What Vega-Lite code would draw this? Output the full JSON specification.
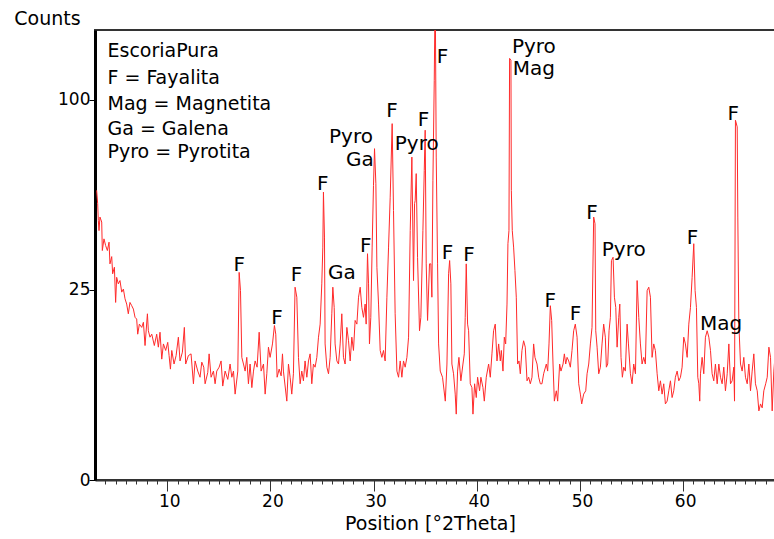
{
"$schema": "https://vega.github.io/schema/vega-lite/v6.json",
"autosize": {"type": "none"},
"width": 681,
"height": 450,
"padding": {"left": 95, "top": 30, "right": 0, "bottom": 59},
"background": "white",
"config": {"view": {"stroke": "#333", "strokeWidth": 2}, "font": "DejaVu Sans"},
"resolve": {"axis": {"x": "independent"}},
"datasets": {
"trace": [
{"t":3.16,"c":58.0},{"t":3.26,"c":52.8},{"t":3.32,"c":46.6},{"t":3.39,"c":43.0},{"t":3.48,"c":47.8},{"t":3.65,"c":46.0},{"t":3.71,"c":36.4},{"t":3.87,"c":40.2},{"t":4.03,"c":38.0},{"t":4.20,"c":36.4},{"t":4.36,"c":39.1},{"t":4.45,"c":32.3},{"t":4.62,"c":34.5},{"t":4.71,"c":29.4},{"t":4.88,"c":31.3},{"t":5.00,"c":21.8},{"t":5.10,"c":28.4},{"t":5.26,"c":26.6},{"t":5.42,"c":27.5},{"t":5.59,"c":24.4},{"t":5.75,"c":25.2},{"t":5.91,"c":22.7},{"t":6.07,"c":21.4},{"t":6.23,"c":19.1},{"t":6.39,"c":21.8},{"t":6.56,"c":21.0},{"t":6.72,"c":20.2},{"t":6.88,"c":18.3},{"t":7.04,"c":17.9},{"t":7.14,"c":14.7},{"t":7.30,"c":16.8},{"t":7.53,"c":16.1},{"t":7.69,"c":17.2},{"t":7.85,"c":12.5},{"t":8.08,"c":19.1},{"t":8.17,"c":15.4},{"t":8.33,"c":14.1},{"t":8.50,"c":14.7},{"t":8.75,"c":12.5},{"t":8.98,"c":14.7},{"t":9.14,"c":12.2},{"t":9.30,"c":15.1},{"t":9.47,"c":10.1},{"t":9.63,"c":12.8},{"t":9.85,"c":11.6},{"t":10.05,"c":13.1},{"t":10.18,"c":10.7},{"t":10.31,"c":8.5},{"t":10.44,"c":11.6},{"t":10.66,"c":9.3},{"t":10.86,"c":10.7},{"t":11.08,"c":14.1},{"t":11.24,"c":9.8},{"t":11.47,"c":11.3},{"t":11.66,"c":16.1},{"t":11.79,"c":9.3},{"t":12.05,"c":10.7},{"t":12.31,"c":11.0},{"t":12.54,"c":6.4},{"t":12.70,"c":9.8},{"t":12.96,"c":8.2},{"t":13.18,"c":7.3},{"t":13.35,"c":9.6},{"t":13.54,"c":8.8},{"t":13.67,"c":6.4},{"t":13.93,"c":8.0},{"t":14.06,"c":11.0},{"t":14.25,"c":7.3},{"t":14.48,"c":8.2},{"t":14.64,"c":6.4},{"t":14.80,"c":8.2},{"t":15.03,"c":8.8},{"t":15.22,"c":9.8},{"t":15.38,"c":6.1},{"t":15.61,"c":8.2},{"t":15.87,"c":7.0},{"t":16.09,"c":9.3},{"t":16.26,"c":7.3},{"t":16.42,"c":8.2},{"t":16.58,"c":5.1},{"t":16.84,"c":8.2},{"t":16.97,"c":29.8},{"t":17.10,"c":24.8},{"t":17.23,"c":10.4},{"t":17.39,"c":9.3},{"t":17.55,"c":8.2},{"t":17.71,"c":10.4},{"t":17.87,"c":6.4},{"t":18.03,"c":9.3},{"t":18.20,"c":5.9},{"t":18.36,"c":8.2},{"t":18.52,"c":9.8},{"t":18.71,"c":8.8},{"t":18.91,"c":15.1},{"t":19.10,"c":8.2},{"t":19.33,"c":9.3},{"t":19.49,"c":5.1},{"t":19.65,"c":7.8},{"t":19.81,"c":12.2},{"t":19.97,"c":10.4},{"t":20.20,"c":12.8},{"t":20.39,"c":16.5},{"t":20.52,"c":14.7},{"t":20.65,"c":7.3},{"t":20.85,"c":8.5},{"t":21.04,"c":7.5},{"t":21.17,"c":11.0},
{"t":21.26,"c":8.2},{"t":21.59,"c":4.3},{"t":21.75,"c":9.3},{"t":21.91,"c":7.3},{"t":22.07,"c":5.1},{"t":22.23,"c":7.8},{"t":22.39,"c":25.7},{"t":22.56,"c":23.1},{"t":22.72,"c":10.4},{"t":22.88,"c":6.4},{"t":23.04,"c":8.2},{"t":23.20,"c":6.8},{"t":23.36,"c":9.8},{"t":23.53,"c":7.3},{"t":23.69,"c":9.8},{"t":23.85,"c":11.0},{"t":24.01,"c":6.4},{"t":24.17,"c":9.3},{"t":24.33,"c":8.8},{"t":24.50,"c":10.4},{"t":24.66,"c":14.1},{"t":24.82,"c":16.8},{"t":24.98,"c":26.6},{"t":25.08,"c":37.5},{"t":25.14,"c":57.3},{"t":25.24,"c":40.8},{"t":25.30,"c":12.8},{"t":25.47,"c":8.8},{"t":25.63,"c":7.8},{"t":25.79,"c":10.4},{"t":25.95,"c":19.1},{"t":26.05,"c":25.7},{"t":26.18,"c":20.6},{"t":26.27,"c":12.8},{"t":26.44,"c":9.8},{"t":26.60,"c":9.3},{"t":26.76,"c":12.8},{"t":26.92,"c":19.1},{"t":27.08,"c":10.4},{"t":27.24,"c":9.3},{"t":27.41,"c":16.1},{"t":27.57,"c":13.4},{"t":27.73,"c":9.8},{"t":27.89,"c":14.1},{"t":28.05,"c":11.6},{"t":28.21,"c":17.6},{"t":28.38,"c":16.8},{"t":28.54,"c":23.1},{"t":28.70,"c":25.7},{"t":28.86,"c":20.6},{"t":29.02,"c":18.3},{"t":29.18,"c":21.4},{"t":29.28,"c":16.8},{"t":29.41,"c":35.4},{"t":29.51,"c":26.6},{"t":29.60,"c":12.8},{"t":29.73,"c":18.3},{"t":29.86,"c":37.5},{"t":29.99,"c":60.0},{"t":30.09,"c":75.9},{"t":30.22,"c":60.7},{"t":30.32,"c":31.3},{"t":30.48,"c":21.4},{"t":30.64,"c":11.6},{"t":30.80,"c":10.4},{"t":30.96,"c":11.6},{"t":31.12,"c":9.8},{"t":31.29,"c":23.1},{"t":31.45,"c":37.5},{"t":31.61,"c":55.3},{"t":31.80,"c":87.8},{"t":31.93,"c":50.2},{"t":32.09,"c":19.1},{"t":32.26,"c":8.2},{"t":32.42,"c":7.3},{"t":32.58,"c":9.8},{"t":32.74,"c":7.3},{"t":32.90,"c":9.8},{"t":33.06,"c":8.8},{"t":33.23,"c":10.4},{"t":33.39,"c":14.1},{"t":33.55,"c":43.0},{"t":33.71,"c":72.1},{"t":33.87,"c":27.5},{"t":33.97,"c":52.8},{"t":34.03,"c":54.0},{"t":34.13,"c":64.9},{"t":34.26,"c":34.3},{"t":34.45,"c":15.4},{"t":34.58,"c":18.3},{"t":34.78,"c":43.0},{"t":34.91,"c":66.3},{"t":35.00,"c":84.6},{"t":35.10,"c":32.3},{"t":35.23,"c":17.6},{"t":35.42,"c":32.3},{"t":35.55,"c":32.3},{"t":35.65,"c":23.1},{"t":35.75,"c":62.1},{"t":35.88,"c":110.5},{"t":35.97,"c":170},{"t":36.07,"c":72.1},{"t":36.20,"c":32.3},{"t":36.30,"c":12.8},{"t":36.46,"c":8.2},{"t":36.68,"c":7.3},
{"t":36.95,"c":4.3},{"t":37.11,"c":9.3},{"t":37.27,"c":29.4},{"t":37.37,"c":33.3},{"t":37.49,"c":26.6},{"t":37.59,"c":9.3},{"t":37.75,"c":7.8},{"t":37.91,"c":5.1},{"t":38.01,"c":3.0},{"t":38.14,"c":8.2},{"t":38.27,"c":10.4},{"t":38.46,"c":6.8},{"t":38.66,"c":9.3},{"t":38.79,"c":11.0},{"t":38.88,"c":18.3},{"t":38.98,"c":32.3},{"t":39.11,"c":16.8},{"t":39.21,"c":15.4},{"t":39.37,"c":6.4},{"t":39.53,"c":5.9},{"t":39.63,"c":3.0},{"t":39.79,"c":6.4},{"t":39.95,"c":4.7},{"t":40.08,"c":7.3},{"t":40.27,"c":5.5},{"t":40.40,"c":7.3},{"t":40.60,"c":5.9},{"t":40.73,"c":4.3},{"t":40.92,"c":7.3},{"t":41.15,"c":9.3},{"t":41.31,"c":7.3},{"t":41.47,"c":11.0},{"t":41.63,"c":15.4},{"t":41.79,"c":16.8},{"t":41.96,"c":9.8},{"t":42.12,"c":12.8},{"t":42.28,"c":9.8},{"t":42.38,"c":11.6},{"t":42.54,"c":8.2},{"t":42.67,"c":14.1},{"t":42.80,"c":12.8},{"t":42.93,"c":21.4},{"t":43.02,"c":38.6},{"t":43.12,"c":43.0},{"t":43.18,"c":122.9},{"t":43.31,"c":121.9},{"t":43.35,"c":58.0},{"t":43.44,"c":43.0},{"t":43.57,"c":37.5},{"t":43.70,"c":30.3},{"t":43.83,"c":23.1},{"t":43.96,"c":9.3},{"t":44.09,"c":9.8},{"t":44.22,"c":7.8},{"t":44.38,"c":11.6},{"t":44.54,"c":13.4},{"t":44.70,"c":12.2},{"t":44.87,"c":6.8},{"t":45.03,"c":7.3},{"t":45.19,"c":6.4},{"t":45.35,"c":7.3},{"t":45.51,"c":12.8},{"t":45.64,"c":10.4},{"t":45.84,"c":9.3},{"t":46.00,"c":7.3},{"t":46.16,"c":6.4},{"t":46.32,"c":6.4},{"t":46.48,"c":7.8},{"t":46.74,"c":9.3},{"t":46.87,"c":8.2},{"t":47.00,"c":12.8},{"t":47.13,"c":21.0},{"t":47.26,"c":17.6},{"t":47.39,"c":9.3},{"t":47.52,"c":4.3},{"t":47.71,"c":5.5},{"t":47.84,"c":4.3},{"t":48.03,"c":9.3},{"t":48.16,"c":8.2},{"t":48.36,"c":9.3},{"t":48.49,"c":11.0},{"t":48.62,"c":9.3},{"t":48.75,"c":10.4},{"t":48.91,"c":9.8},{"t":49.07,"c":8.8},{"t":49.23,"c":11.6},{"t":49.39,"c":15.4},{"t":49.55,"c":16.8},{"t":49.72,"c":14.1},{"t":49.88,"c":6.4},{"t":50.04,"c":5.1},{"t":50.17,"c":4.0},{"t":50.36,"c":5.1},{"t":50.56,"c":5.5},{"t":50.69,"c":7.8},{"t":50.85,"c":9.3},{"t":51.01,"c":12.8},{"t":51.17,"c":16.1},{"t":51.33,"c":47.8},{"t":51.46,"c":45.4},{"t":51.53,"c":15.4},{"t":51.66,"c":12.2},{"t":51.82,"c":7.8},
{"t":51.98,"c":8.8},{"t":52.14,"c":12.8},{"t":52.30,"c":16.8},{"t":52.46,"c":14.1},{"t":52.56,"c":8.8},{"t":52.69,"c":9.3},{"t":52.82,"c":15.4},{"t":52.95,"c":18.3},{"t":53.05,"c":33.3},{"t":53.21,"c":34.3},{"t":53.34,"c":23.1},{"t":53.47,"c":20.6},{"t":53.60,"c":12.2},{"t":53.76,"c":18.3},{"t":53.86,"c":21.4},{"t":53.98,"c":10.4},{"t":54.11,"c":7.3},{"t":54.24,"c":8.8},{"t":54.40,"c":8.2},{"t":54.57,"c":16.8},{"t":54.70,"c":12.8},{"t":54.89,"c":7.8},{"t":55.05,"c":6.4},{"t":55.21,"c":9.3},{"t":55.38,"c":7.8},{"t":55.54,"c":27.5},{"t":55.70,"c":18.3},{"t":55.86,"c":12.8},{"t":56.02,"c":9.3},{"t":56.18,"c":10.4},{"t":56.34,"c":9.3},{"t":56.51,"c":24.8},{"t":56.67,"c":25.7},{"t":56.83,"c":23.1},{"t":56.99,"c":10.4},{"t":57.15,"c":12.8},{"t":57.31,"c":11.6},{"t":57.48,"c":7.8},{"t":57.64,"c":5.5},{"t":57.80,"c":6.8},{"t":57.96,"c":5.1},{"t":58.12,"c":6.4},{"t":58.28,"c":4.0},{"t":58.45,"c":4.3},{"t":58.61,"c":5.5},{"t":58.77,"c":6.8},{"t":58.93,"c":4.7},{"t":59.09,"c":5.5},{"t":59.25,"c":7.3},{"t":59.42,"c":8.2},{"t":59.58,"c":6.8},{"t":59.74,"c":7.3},{"t":59.90,"c":8.8},{"t":60.06,"c":14.1},{"t":60.22,"c":12.8},{"t":60.39,"c":10.4},{"t":60.55,"c":16.8},{"t":60.71,"c":20.6},{"t":60.87,"c":28.4},{"t":61.03,"c":38.6},{"t":61.16,"c":24.8},{"t":61.29,"c":20.6},{"t":61.42,"c":7.3},{"t":61.52,"c":6.4},{"t":61.61,"c":4.3},{"t":61.68,"c":7.8},{"t":61.84,"c":10.4},{"t":62.00,"c":7.8},{"t":62.16,"c":14.1},{"t":62.33,"c":15.4},{"t":62.49,"c":14.1},{"t":62.65,"c":11.6},{"t":62.81,"c":7.8},{"t":62.97,"c":6.8},{"t":63.13,"c":9.3},{"t":63.30,"c":6.4},{"t":63.46,"c":9.3},{"t":63.62,"c":7.3},{"t":63.78,"c":6.4},{"t":63.94,"c":8.8},{"t":64.10,"c":5.5},{"t":64.27,"c":7.8},{"t":64.43,"c":12.8},{"t":64.59,"c":6.4},{"t":64.75,"c":6.8},{"t":64.91,"c":8.8},{"t":64.98,"c":4.3},{"t":65.07,"c":89.5},{"t":65.24,"c":86.2},{"t":65.30,"c":47.8},{"t":65.40,"c":16.8},{"t":65.56,"c":9.3},{"t":65.72,"c":8.2},{"t":65.88,"c":10.4},{"t":66.04,"c":7.3},{"t":66.21,"c":6.4},{"t":66.37,"c":9.3},{"t":66.53,"c":5.5},{"t":66.69,"c":8.2},{"t":66.85,"c":11.0},{"t":67.01,"c":6.4},{"t":67.18,"c":5.5},{"t":67.34,"c":3.3},{"t":67.50,"c":4.0},{"t":67.66,"c":3.6},{"t":67.82,"c":5.5},{"t":68.00,"c":6.4},{"t":68.15,"c":7.3},{"t":68.31,"c":12.2},{"t":68.47,"c":10.4},{"t":68.63,"c":3.3},{"t":68.79,"c":8.2},{"t":68.90,"c":10.4}
],
"peaks": [
{"t":16.99,"c":30.1,"label":"F"},
{"t":20.65,"c":16.9,"label":"F"},
{"t":22.52,"c":27.3,"label":"F"},
{"t":25.08,"c":58.3,"label":"F"},
{"t":26.93,"c":28.0,"label":"Ga"},
{"t":29.25,"c":35.9,"label":"F"},
{"t":27.81,"c":78.5,"label":"Pyro"},
{"t":28.66,"c":68.0,"label":"Ga"},
{"t":31.78,"c":91.1,"label":"F"},
{"t":34.18,"c":75.2,"label":"Pyro"},
{"t":34.84,"c":86.8,"label":"F"},
{"t":36.68,"c":120.0,"label":"F"},
{"t":37.17,"c":33.8,"label":"F"},
{"t":39.24,"c":33.3,"label":"F"},
{"t":45.53,"c":125.8,"label":"Pyro"},
{"t":45.53,"c":113.3,"label":"Mag"},
{"t":47.13,"c":20.8,"label":"F"},
{"t":49.56,"c":17.6,"label":"F"},
{"t":51.17,"c":47.2,"label":"F"},
{"t":54.24,"c":34.6,"label":"Pyro"},
{"t":60.90,"c":38.6,"label":"F"},
{"t":63.67,"c":15.6,"label":"Mag"},
{"t":64.85,"c":89.8,"label":"F"}
],
"legend": [
{"t":4.21,"c":123.5,"label":"EscoriaPura"},
{"t":4.21,"c":108.4,"label":"F = Fayalita"},
{"t":4.21,"c":94.6,"label":"Mag = Magnetita"},
{"t":4.21,"c":82.3,"label":"Ga = Galena"},
{"t":4.21,"c":71.9,"label":"Pyro = Pyrotita"}
]
},
"layer": [
{
"data": {"name": "trace"},
"mark": {"type": "line", "color": "#ff2a2a", "strokeWidth": 1, "clip": true},
"encoding": {
"x": {"field": "t", "type": "quantitative",
"scale": {"domain": [3, 69], "nice": false, "zero": false},
"axis": {
"orient": "bottom",
"title": "Position [°2Theta]",
"values": [10, 20, 30, 40, 50, 60],
"tickSize": 11,
"tickColor": "#333",
"tickWidth": 1,
"domainColor": "#333",
"domainWidth": 2,
"grid": false,
"labelFont": "DejaVu Sans",
"labelFontSize": 17,
"labelColor": "black",
"labelPadding": 2,
"labelOffset": 2,
"labelFlush": false,
"titleFont": "DejaVu Sans",
"titleFontSize": 19,
"titleFontWeight": "normal",
"titleColor": "black",
"titleX": 335,
"titleY": 49,
"titleAlign": "center",
"titleBaseline": "alphabetic"
}
},
"y": {"field": "c", "type": "quantitative",
"scale": {"type": "sqrt", "domain": [0, 140], "nice": false},
"axis": {
"title": "Counts",
"values": [0, 25, 100],
"tickSize": 6,
"tickColor": "black",
"domainColor": "black",
"domainWidth": 3,
"grid": false,
"labelFont": "DejaVu Sans",
"labelFontSize": 17,
"labelColor": "black",
"labelPadding": -1,
"titleFont": "DejaVu Sans",
"titleFontSize": 19,
"titleFontWeight": "normal",
"titleColor": "black",
"titleAngle": 0,
"titleX": -48,
"titleY": -6,
"titleAlign": "center",
"titleBaseline": "alphabetic"
}
}
}
},
{
"data": {"name": "peaks"},
"mark": {"type": "text", "font": "DejaVu Sans", "fontSize": 20, "color": "black", "align": "center", "baseline": "alphabetic"},
"encoding": {
"x": {"field": "t", "type": "quantitative",
"axis": {
"orient": "bottom",
"title": "",
"values": [4,5,6,7,8,9,11,12,13,14,15,16,17,18,19,21,22,23,24,25,26,27,28,29,31,32,33,34,35,36,37,38,39,41,42,43,44,45,46,47,48,49,51,52,53,54,55,56,57,58,59,61,62,63,64,65,66,67,68],
"labels": false,
"domain": false,
"grid": false,
"tickSize": 4,
"tickColor": "#333",
"tickWidth": 1
}
},
"y": {"field": "c", "type": "quantitative"},
"text": {"field": "label", "type": "nominal"}
}
},
{
"data": {"name": "legend"},
"mark": {"type": "text", "font": "DejaVu Sans", "fontSize": 19, "color": "black", "align": "left", "baseline": "alphabetic"},
"encoding": {
"x": {"field": "t", "type": "quantitative", "axis": null},
"y": {"field": "c", "type": "quantitative"},
"text": {"field": "label", "type": "nominal"}
}
}
]
}
